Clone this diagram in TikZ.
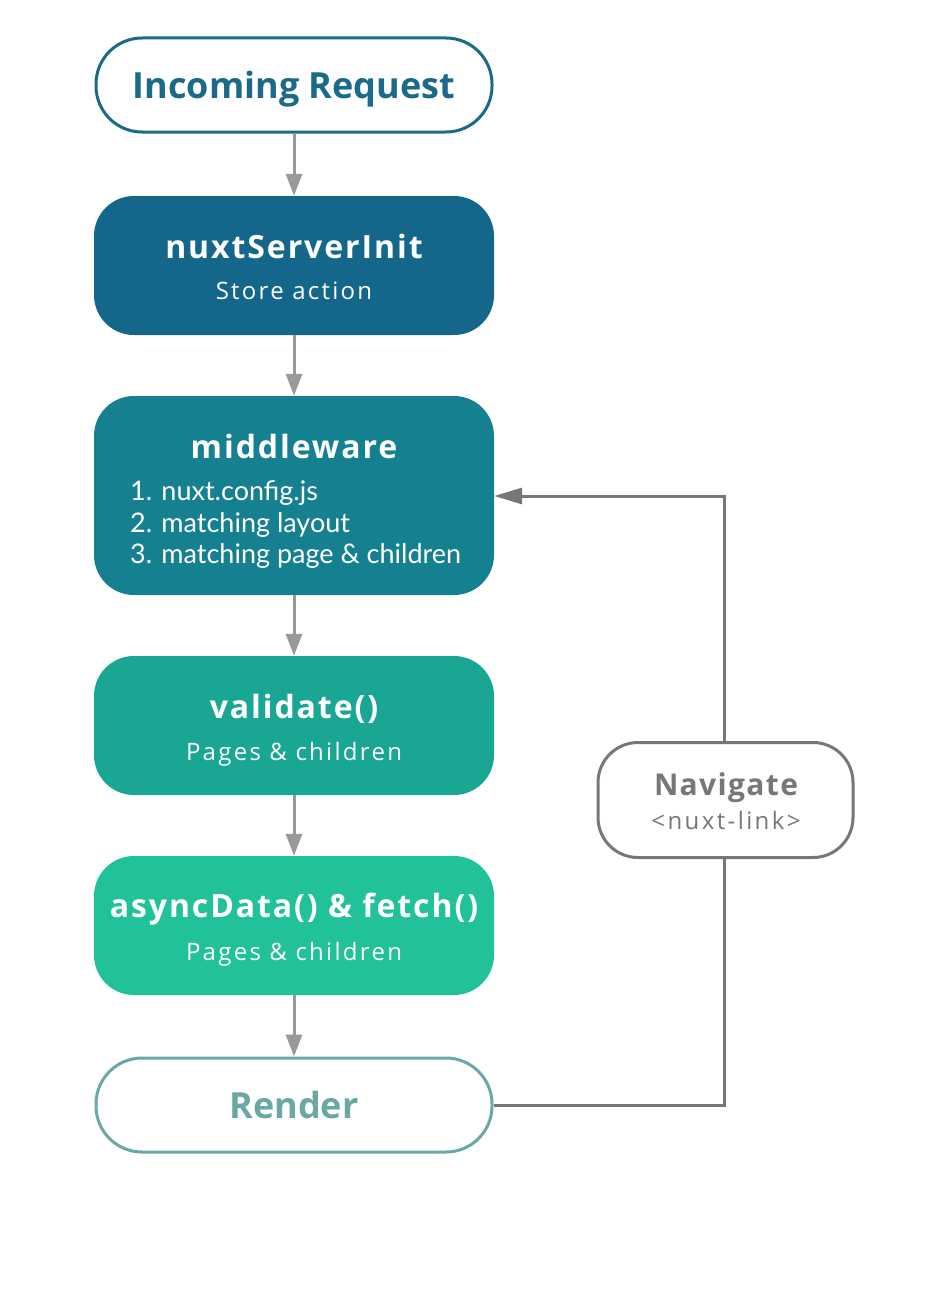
\documentclass[tikz,border=0pt]{standalone}
\usepackage{fontspec}
\setmainfont{Open Sans}
\newfontfamily\listfont{Lato}
\usetikzlibrary{arrows.meta}
\definecolor{cInc}{HTML}{1B6A8A}
\definecolor{cInit}{HTML}{14678B}
\definecolor{cMid}{HTML}{158190}
\definecolor{cVal}{HTML}{19A693}
\definecolor{cAsync}{HTML}{21C199}
\definecolor{cRender}{HTML}{69A8A6}
\definecolor{cNav}{HTML}{777777}
\definecolor{cArrow}{HTML}{999999}
\tikzset{
  pill/.style={draw, line width=3pt, fill=white, rounded corners=46pt, minimum width=396pt, minimum height=94pt, inner sep=0pt},
  stepbox/.style={rounded corners=40pt, minimum width=400pt, minimum height=139pt, inner sep=0pt},
  navbox/.style={draw=cNav, line width=3pt, fill=white, rounded corners=40pt, minimum width=255pt, minimum height=115pt, inner sep=0pt},
  title/.style={font=\fontsize{32}{36}\selectfont\bfseries\addfontfeatures{LetterSpace=6}, text=white, anchor=base, inner sep=0pt},
  sub/.style={font=\fontsize{24}{28}\selectfont\addfontfeatures{LetterSpace=9.5}, text=white, anchor=base, inner sep=0pt},
  listitem/.style={font=\fontsize{27}{32}\selectfont\listfont, text=white, anchor=base west, inner sep=0pt},
  flow/.style={draw=cArrow, line width=3pt, -{Triangle[width=16pt,length=22pt]}},
  loop/.style={draw=cNav, line width=3pt},
}
\begin{document}
\begin{tikzpicture}[x=1pt, y=-1pt]
\useasboundingbox (0,0) rectangle (940,1298);
% boxes
\node[pill, draw=cInc] (inc) at (294,85) {};
\node[font=\fontsize{36}{40}\selectfont\bfseries, text=cInc, anchor=base, inner sep=0pt] (incT) at (294,98) {Incoming Request};

\node[stepbox, fill=cInit] (init) at (294,265.5) {};
\node[title] (initT) at (294,258) {nuxtServerInit};
\node[sub] (initS) at (294,299) {Store action};

\node[stepbox, fill=cMid, minimum height=199pt] (mid) at (294,495.5) {};
\node[title] (midT) at (294,458) {middleware};
\node[listitem] (mid1) at (130,500) {1. nuxt.config.js};
\node[listitem] (mid2) at (130,532) {2. matching layout};
\node[listitem] (mid3) at (130,563) {3. matching page \& children};

\node[stepbox, fill=cVal] (val) at (294,725.5) {};
\node[title] (valT) at (294,718) {validate()};
\node[sub] (valS) at (294,760) {Pages \& children};

\node[stepbox, fill=cAsync] (async) at (294,925.5) {};
\node[title] (asyncT) at (294,917) {asyncData() \& fetch()};
\node[sub] (asyncS) at (294,960) {Pages \& children};

\node[pill, draw=cRender] (render) at (294,1105) {};
\node[font=\fontsize{36}{40}\selectfont\bfseries, text=cRender, anchor=base, inner sep=0pt] (renderT) at (294,1118) {Render};

\node[navbox] (nav) at (725.5,800) {};
\node[font=\fontsize{30}{34}\selectfont\bfseries\addfontfeatures{LetterSpace=4.5}, text=cNav, anchor=base, inner sep=0pt] (navT) at (726,795) {Navigate};
\node[font=\fontsize{24}{28}\selectfont\addfontfeatures{LetterSpace=10}, text=cNav, anchor=base, inner sep=0pt] (navS) at (726,829) {<nuxt-link>};

% flow arrows
\draw[flow] (inc.south) -- (init.north);
\draw[flow] (init.south) -- (mid.north);
\draw[flow] (mid.south) -- (val.north);
\draw[flow] (val.south) -- (async.north);
\draw[flow] (async.south) -- (render.north);

% loop
\coordinate (c1) at (724,1105);
\coordinate (c2) at (724,496);
\draw[loop] (render.east) -- (c1) -- (nav.south -| c1);
\draw[loop, -{Triangle[width=16pt,length=28pt]}] (nav.north -| c2) -- (c2) -- (mid.east |- c2);
\end{tikzpicture}
\end{document}
